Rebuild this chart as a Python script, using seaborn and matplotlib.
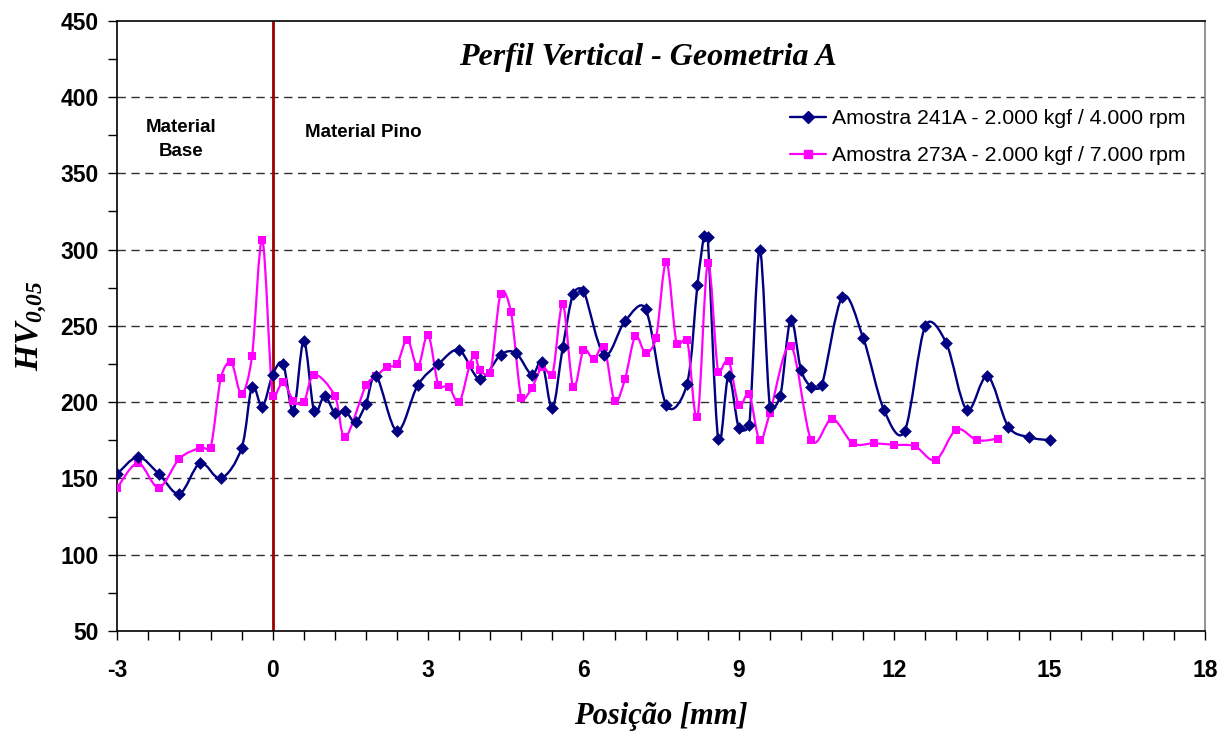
import numpy as np
import pandas as pd
import matplotlib
matplotlib.use("Agg")
import matplotlib.pyplot as plt
import seaborn as sns
from matplotlib.path import Path
from matplotlib.patches import PathPatch
from matplotlib.lines import Line2D
from matplotlib.ticker import MultipleLocator

# ---- data ----
x_241 = [-3.0, -2.6, -2.2, -1.8, -1.4, -1.0, -0.6, -0.4, -0.2, 0.0, 0.2, 0.4, 0.6, 0.8, 1.0,
         1.2, 1.4, 1.6, 1.8, 2.0, 2.4, 2.8, 3.2, 3.6, 4.0, 4.4, 4.7, 5.0, 5.2, 5.4, 5.6, 5.8,
         6.0, 6.4, 6.8, 7.2, 7.6, 8.0, 8.2, 8.33, 8.4, 8.6, 8.8, 9.0, 9.2, 9.4, 9.6, 9.8, 10.0,
         10.2, 10.4, 10.6, 11.0, 11.4, 11.8, 12.2, 12.6, 13.0, 13.4, 13.8, 14.2, 14.6, 15.0]
hv_241 = [153, 164, 153, 140, 160, 150, 170, 210, 197, 218, 225, 194, 240, 194, 204,
          193, 194, 187, 199, 217, 181, 211, 225, 234, 215, 231, 232, 218, 226, 196, 236, 271,
          273, 231, 253, 261, 198, 212, 277, 309, 308, 176, 217, 183, 185, 300, 197, 204, 254,
          221, 210, 211, 269, 242, 195, 181, 250, 239, 195, 217, 184, 177, 175]

x_273 = [-3.0, -2.6, -2.2, -1.8, -1.4, -1.2, -1.0, -0.8, -0.6, -0.4, -0.2, 0.0, 0.2, 0.4, 0.6,
         0.8, 1.2, 1.4, 1.8, 2.0, 2.2, 2.4, 2.6, 2.8, 3.0, 3.2, 3.4, 3.6, 3.8, 3.9, 4.0, 4.2,
         4.4, 4.6, 4.8, 5.0, 5.2, 5.4, 5.6, 5.8, 6.0, 6.2, 6.4, 6.6, 6.8, 7.0, 7.2, 7.4, 7.6,
         7.8, 8.0, 8.2, 8.4, 8.6, 8.8, 9.0, 9.2, 9.4, 9.6, 10.0, 10.4, 10.8, 11.2, 11.6, 12.0,
         12.4, 12.8, 13.2, 13.6, 14.0]
hv_273 = [144, 160, 144, 163, 170, 170, 216, 226, 205, 230, 306, 204, 213, 201, 200,
          218, 204, 177, 211, 217, 223, 225, 241, 223, 244, 211, 210, 200, 224, 231, 221, 219,
          271, 259, 203, 209, 223, 218, 264, 210, 234, 228, 236, 201, 215, 243, 232, 242, 292,
          238, 241, 190, 291, 220, 227, 198, 205, 175, 193, 237, 175, 189, 173, 173, 172,
          171, 162, 182, 175, 176]

label_241 = "Amostra 241A - 2.000 kgf / 4.000 rpm"
label_273 = "Amostra 273A - 2.000 kgf / 7.000 rpm"
title = "Perfil Vertical - Geometria A"
x_label = "Posição [mm]"
y_label = r"$HV_{0{,}05}$"
x_ticks = [-3, 0, 3, 6, 9, 12, 15, 18]
y_ticks = [50, 100, 150, 200, 250, 300, 350, 400, 450]
boundary_x = 0.0

NAVY = "#000080"
MAGENTA = "#FF00FF"
DARKRED = "#990000"

df = pd.concat([
    pd.DataFrame({"pos": x_241, "hv": hv_241, "serie": label_241}),
    pd.DataFrame({"pos": x_273, "hv": hv_273, "serie": label_273}),
])

sns.set_theme(style="white")
plt.rcParams["font.family"] = ["Liberation Sans", "DejaVu Sans"]
plt.rcParams["axes.unicode_minus"] = False
plt.rcParams["text.color"] = "black"
plt.rcParams["xtick.color"] = "black"
plt.rcParams["ytick.color"] = "black"
plt.rcParams["axes.labelcolor"] = "black"
plt.rcParams["mathtext.fontset"] = "custom"
plt.rcParams["mathtext.it"] = "Liberation Serif:italic:bold"
plt.rcParams["mathtext.bf"] = "Liberation Serif:italic:bold"
plt.rcParams["mathtext.rm"] = "Liberation Serif:italic:bold"

fig = plt.figure(figsize=(12.26, 7.33), dpi=100)
ax = fig.add_axes([0.0957, 0.1392, 0.8872, 0.8326])
ax.set_xlim(-3, 18)
ax.set_ylim(50, 450)


def smooth_path(xs, ys, limit=0.5):
    """Excel-like smoothed line: Catmull-Rom cubic Bezier through the data points,
    handle length limited relative to the segment length (display space)."""
    p = ax.transData.transform(np.column_stack([xs, ys]).astype(float))
    n = len(p)
    verts = [p[0]]
    codes = [Path.MOVETO]
    for i in range(n - 1):
        p0 = p[i - 1] if i > 0 else p[i]
        p1 = p[i]
        p2 = p[i + 1]
        p3 = p[i + 2] if i + 2 < n else p[i + 1]
        L = np.hypot(*(p2 - p1))
        h1 = (p2 - p0) / 6.0
        h2 = (p3 - p1) / 6.0
        for h in (h1, h2):
            m = np.hypot(*h)
            if m > limit * L and m > 0:
                h *= limit * L / m
        verts += [p1 + h1, p2 - h2, p2]
        codes += [Path.CURVE4] * 3
    verts = ax.transData.inverted().transform(np.array(verts))
    return Path(verts, codes)


# gridlines
for yv in y_ticks[1:-1]:
    ax.axhline(yv, color="#303030", lw=1.0, ls=(0, (6, 4)), zorder=1)

# smoothed lines
ax.add_patch(PathPatch(smooth_path(x_241, hv_241), fill=False, edgecolor=NAVY, lw=1.7, zorder=3))
ax.add_patch(PathPatch(smooth_path(x_273, hv_273), fill=False, edgecolor=MAGENTA, lw=1.6, zorder=3))

# markers
sns.scatterplot(data=df[df.serie == label_273], x="pos", y="hv", marker="s", s=30,
                color=MAGENTA, edgecolor=MAGENTA, linewidth=0, ax=ax, zorder=4, legend=False)
sns.scatterplot(data=df[df.serie == label_241], x="pos", y="hv", marker="D", s=42,
                color=NAVY, edgecolor=NAVY, linewidth=0, ax=ax, zorder=5, legend=False)

ax.axvline(boundary_x, color=DARKRED, lw=2.0, zorder=2)

ax.set_xlim(-3, 18)
ax.set_ylim(50, 450)
ax.set_xticks(x_ticks)
ax.set_yticks(y_ticks)
ax.xaxis.set_minor_locator(MultipleLocator(0.6))
ax.yaxis.set_minor_locator(MultipleLocator(25))
ax.tick_params(axis="both", which="both", direction="out", length=6.5, width=1, color="black",
               labelsize=16.5, labelcolor="black")
ax.tick_params(axis="x", which="both", bottom=True, pad=14)
ax.tick_params(axis="y", which="both", left=True, pad=7)
for lab in ax.get_xticklabels() + ax.get_yticklabels():
    lab.set_fontweight("bold")

for side in ["left", "bottom", "top"]:
    ax.spines[side].set_color("black")
    ax.spines[side].set_linewidth(1.2)
ax.spines["right"].set_color("#808080")
ax.spines["right"].set_linewidth(1.2)

ax.set_xlabel(x_label, fontfamily="Liberation Serif", fontweight="bold", fontstyle="italic",
              fontsize=22, labelpad=14, color="black")
ax.set_ylabel(y_label, fontsize=24, labelpad=8, color="black")

ax.text(0.4875, 0.939, title, transform=ax.transAxes, ha="center", va="center",
        fontfamily="Liberation Serif", fontweight="bold", fontstyle="italic", fontsize=23,
        color="black")

ax.text(-1.77, 372, "Material\nBase", ha="center", va="center", fontweight="bold",
        fontsize=13.5, linespacing=1.5, color="black")
ax.text(0.62, 376.5, "Material Pino", ha="left", va="center", fontweight="bold",
        fontsize=13.5, color="black")

handles = [
    Line2D([], [], color=NAVY, lw=1.7, marker="D", markersize=6.5),
    Line2D([], [], color=MAGENTA, lw=1.6, marker="s", markersize=5.5),
]
leg = ax.legend(handles, [label_241, label_273], loc="upper right",
                bbox_to_anchor=(0.99, 0.869), frameon=False, fontsize=15.3,
                handlelength=1.7, handletextpad=0.3, labelspacing=0.85, borderaxespad=0)
for t in leg.get_texts():
    t.set_color("black")

fig.savefig("out.png", dpi=100)
